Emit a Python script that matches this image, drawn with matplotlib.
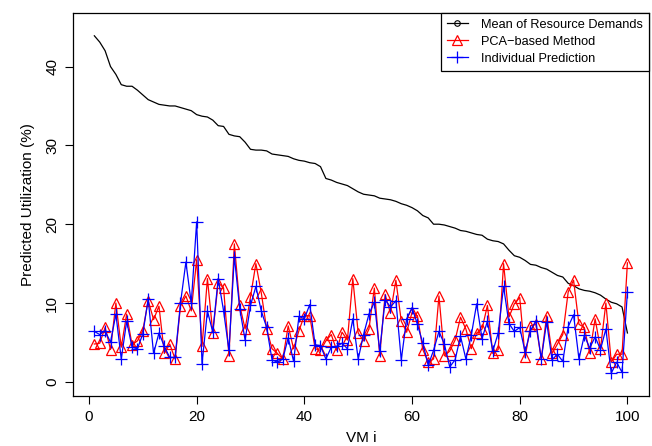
"""Predicted utilization per VM: mean demand vs PCA-based vs individual prediction."""

import matplotlib
matplotlib.use("Agg")
import matplotlib.pyplot as plt
from matplotlib.lines import Line2D
import numpy as np

plt.rcParams["font.family"] = ["Liberation Sans", "DejaVu Sans"]

vm_index = np.arange(1, 101)

mean_demand = [
    43.9, 43.1, 42.0, 40.0, 39.0, 37.7, 37.5, 37.5, 37.0, 36.4,
    35.8, 35.5, 35.2, 35.1, 35.0, 35.0, 34.8, 34.6, 34.4, 33.9,
    33.7, 33.6, 33.2, 32.5, 32.4, 31.4, 31.2, 31.1, 30.4, 29.5,
    29.4, 29.4, 29.3, 28.9, 28.8, 28.7, 28.6, 28.3, 28.1, 28.0,
    27.8, 27.7, 27.3, 25.8, 25.6, 25.3, 25.1, 24.9, 24.5, 24.1,
    23.8, 23.7, 23.6, 23.3, 23.2, 23.1, 22.9, 22.6, 22.4, 22.1,
    21.7, 21.1, 20.8, 20.0, 20.0, 19.9, 19.7, 19.5, 19.2, 19.1,
    18.9, 18.7, 18.6, 18.1, 17.9, 17.8, 17.5, 16.7, 16.0, 15.8,
    15.4, 14.9, 14.8, 14.5, 14.3, 13.9, 13.5, 13.3, 12.5, 12.2,
    11.8, 11.6, 11.5, 11.3, 11.0, 10.5, 10.1, 9.9, 9.5, 6.2,
]

pca_based = [
    4.8, 4.9, 6.9, 4.1, 10.0, 4.4, 8.6, 4.7, 5.2, 6.5,
    10.3, 7.9, 9.6, 3.6, 4.8, 2.9, 9.6, 10.9, 9.0, 15.5,
    4.5, 13.1, 6.2, 12.6, 11.9, 3.3, 17.5, 9.7, 6.7, 10.8,
    15.0, 11.3, 6.7, 4.2, 3.6, 2.9, 7.1, 4.2, 6.5, 8.4,
    8.4, 4.2, 4.0, 5.2, 6.0, 4.0, 6.3, 5.3, 13.1, 6.2,
    5.2, 6.7, 11.9, 3.3, 11.1, 8.7, 12.9, 7.7, 6.3, 8.8,
    8.4, 4.1, 2.5, 2.9, 10.9, 3.3, 3.9, 5.3, 8.2, 6.7,
    4.2, 6.2, 6.7, 9.7, 3.6, 4.1, 15.0, 8.2, 9.9, 10.7,
    3.1, 7.1, 7.3, 2.9, 8.4, 3.6, 4.8, 6.0, 11.4, 12.9,
    7.3, 6.9, 3.6, 8.0, 4.2, 10.0, 2.5, 3.5, 3.5, 15.1,
]

individual = [
    6.4, 6.0, 6.5, 5.0, 8.6, 2.9, 7.7, 4.4, 4.2, 6.1,
    10.5, 3.6, 6.2, 4.5, 3.1, 3.1, 10.0, 15.2, 10.0, 20.3,
    2.3, 9.0, 6.3, 13.1, 9.0, 4.0, 15.9, 9.3, 5.3, 9.7,
    12.1, 9.0, 6.9, 2.8, 2.5, 2.9, 5.6, 2.6, 8.3, 8.0,
    9.8, 4.7, 4.6, 2.9, 4.4, 4.5, 4.9, 4.2, 8.0, 2.9,
    6.0, 8.6, 10.1, 3.9, 10.4, 9.5, 10.3, 2.8, 8.0, 9.4,
    7.3, 4.9, 2.1, 4.0, 6.4, 4.8, 1.9, 2.8, 5.8, 2.9,
    5.9, 9.9, 5.5, 7.7, 3.9, 6.2, 12.1, 7.4, 6.4, 6.9,
    3.8, 6.5, 7.7, 2.9, 7.6, 2.8, 3.5, 2.6, 7.0, 8.5,
    2.9, 5.9, 4.3, 5.7, 4.1, 6.7, 1.1, 2.5, 1.2, 11.4,
]

series_labels = ["Mean of Resource Demands", "PCA\u2212based Method", "Individual Prediction"]
x_ticks = [0, 20, 40, 60, 80, 100]
y_ticks = [0, 10, 20, 30, 40]

fig = plt.figure(figsize=(6.52, 4.46), dpi=100)
ax = fig.add_axes([0.112, 0.112, 0.883, 0.859])

ax.plot(vm_index, mean_demand, color="black", linewidth=0.9)
ax.plot(
    vm_index, pca_based, color="red", linewidth=0.9, marker="^", markersize=7,
    markerfacecolor="none", markeredgecolor="red", markeredgewidth=0.9,
)
ax.plot(
    vm_index, individual, color="blue", linewidth=0.9, marker="+", markersize=9,
    markeredgewidth=0.9,
)

ax.set_xlim(-2.96, 103.96)
ax.set_ylim(-1.8, 46.8)
ax.set_xticks(x_ticks)
ax.set_yticks(y_ticks)
ax.tick_params(direction="out", length=6, width=0.8, labelsize=11, pad=4)
plt.setp(ax.get_yticklabels(), rotation=90, va="center")
for side in ax.spines.values():
    side.set_linewidth(0.9)

ax.set_xlabel("VM i", fontsize=11, labelpad=5)
ax.set_ylabel("Predicted Utilization (%)", fontsize=11, labelpad=7)

# legend keys: line with one marker in the middle, R style
handles = [
    Line2D([], [], color="black", linewidth=0.9, marker="o", markersize=4,
           markerfacecolor="none", markeredgewidth=0.8),
    Line2D([], [], color="red", linewidth=0.9, marker="^", markersize=7,
           markerfacecolor="none", markeredgewidth=0.9),
    Line2D([], [], color="blue", linewidth=0.9, marker="+", markersize=9,
           markeredgewidth=0.9),
]
leg = ax.legend(
    handles, series_labels,
    loc="upper right", bbox_to_anchor=(1.0, 1.0), borderaxespad=0,
    fancybox=False, edgecolor="black", framealpha=1, fontsize=9.2,
    numpoints=1, handlelength=1.7, handletextpad=1.0, labelspacing=0.4,
    borderpad=0.45,
)
leg.get_frame().set_linewidth(0.9)

fig.savefig("out.png", dpi=100)
plt.close(fig)
